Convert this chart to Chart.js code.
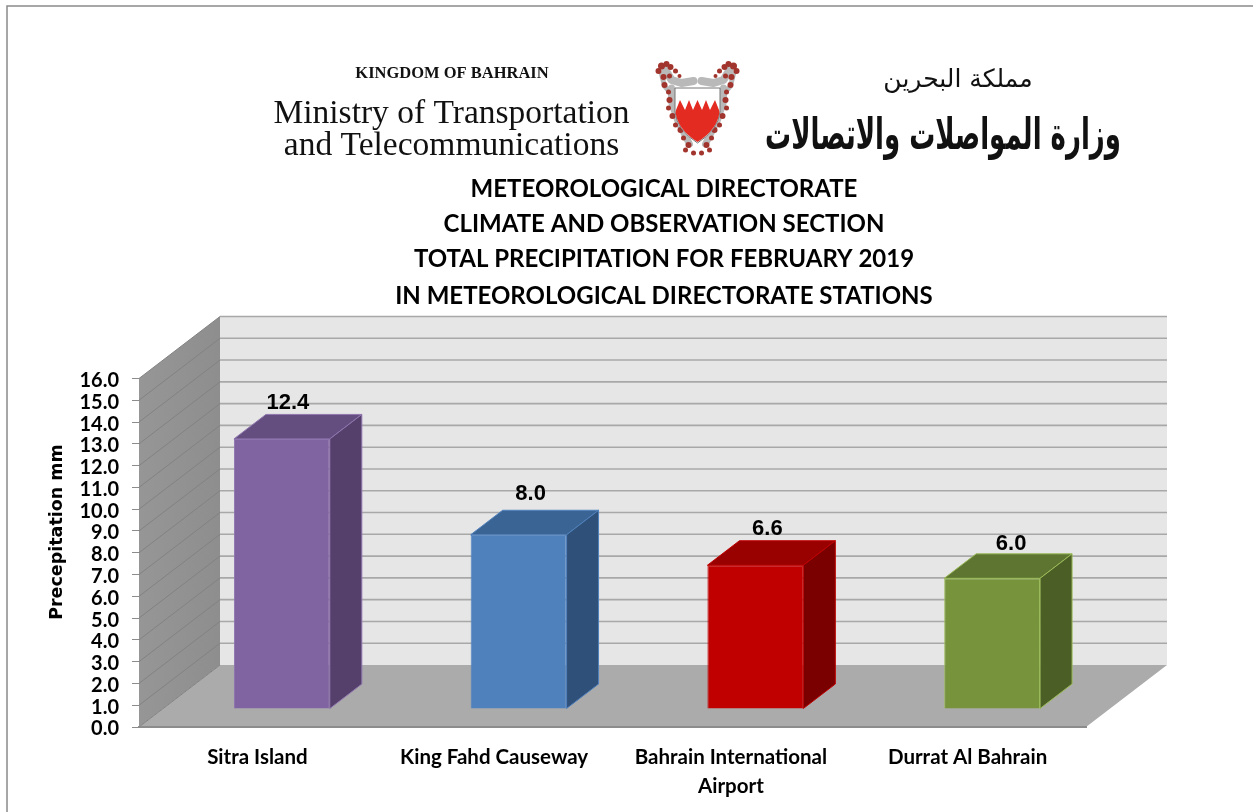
<!DOCTYPE html>
<html>
<head>
<meta charset="utf-8">
<title>Total precipitation February 2019</title>
<script src="https://cdn.jsdelivr.net/npm/chart.js@4/dist/chart.umd.js"></script>
<style>
  html, body { margin: 0; padding: 0; background: #fff; }
  #wrap { position: relative; width: 1253px; height: 812px; }
</style>
</head>
<body>
<div id="wrap"><canvas id="rainChart" width="1253" height="812"></canvas></div>
<script>
const stations = ['Sitra Island', 'King Fahd Causeway', ['Bahrain International', 'Airport'], 'Durrat Al Bahrain'];
const precipitation = [12.4, 8.0, 6.6, 6.0];
const frontColors = ['#8064a2', '#4f81bd', '#c00000', '#77933c'];
const topColors = ['#644e80', '#3a6494', '#990000', '#5d7530'];
const sideColors = ['#553f6b', '#2f5079', '#7a0000', '#4b5e25'];
const edgeColors = ['#8f75ae', '#4f81bd', '#c00000', '#9bbb59'];
const titleLines = [
  'METEOROLOGICAL DIRECTORATE',
  'CLIMATE AND OBSERVATION SECTION',
  'TOTAL PRECIPITATION FOR FEBRUARY 2019',
  'IN METEOROLOGICAL DIRECTORATE STATIONS'
];
const yAxisTitle = 'Precepitation mm';

// depth of the fake 3d box
const wallDx = 81, wallDy = -62;
const barDx = 24.5, barDy = -18;
const sideDx = 32, sideDy = -24.5;
const labelNudge = [[-6, 1], [0, -4], [0, 0], [7, 2]];

function poly(ctx, pts, fill, stroke) {
  ctx.beginPath();
  pts.forEach((p, i) => i ? ctx.lineTo(p[0], p[1]) : ctx.moveTo(p[0], p[1]));
  ctx.closePath();
  ctx.fillStyle = fill;
  ctx.fill();
  if (stroke) {
    ctx.strokeStyle = stroke;
    ctx.lineWidth = 1;
    ctx.stroke();
  }
}

function drawEmblem(ctx) {
  // mantling round the shield, mirrored about the middle
  const midX = 697.5, topY = 88;
  const grey = [
    [8, [[-32, -18], [-26, -8], [-16, -5], [-4, -7]]],
    [7, [[-26, 0], [-26, 14], [-20, 32], [-8, 56]]],
    [5, [[-36, -14], [-33, -2], [-28, 4]]]
  ];
  const dabs = [
    [-39, -17, 3], [-36, -22, 3.5], [-31, -24, 3], [-27, -21, 3], [-22, -17, 2.5], [-34, -11, 3],
    [-28, -12, 2.5], [-18, -12, 2], [-33, -3, 3], [-29, 4, 2.5], [-28, 12, 3], [-29, 20, 2.5],
    [-25, 28, 3], [-22, 37, 2.5], [-17, 42, 3], [-14, 50, 2.5], [-9, 57, 3], [-12, 62, 2.5], [-4, 65, 2.5]
  ];
  ctx.lineCap = 'round';
  ctx.lineJoin = 'round';
  [-1, 1].forEach(dir => {
    ctx.strokeStyle = '#b9b9b9';
    grey.forEach(s => {
      ctx.lineWidth = s[0];
      ctx.beginPath();
      s[1].forEach((p, i) => {
        i ? ctx.lineTo(midX + dir * p[0], topY + p[1]) : ctx.moveTo(midX + dir * p[0], topY + p[1]);
      });
      ctx.stroke();
    });
    ctx.fillStyle = '#a1342c';
    dabs.forEach(d => {
      ctx.beginPath();
      ctx.arc(midX + dir * d[0], topY + d[1], d[2], 0, Math.PI * 2);
      ctx.fill();
    });
  });
  ctx.lineCap = 'butt';
  ctx.lineJoin = 'miter';
  // shield
  ctx.beginPath();
  ctx.moveTo(675, 88);
  ctx.lineTo(720, 88);
  ctx.lineTo(720, 112);
  ctx.quadraticCurveTo(718, 130, 697.5, 143);
  ctx.quadraticCurveTo(677, 130, 675, 112);
  ctx.closePath();
  ctx.fillStyle = '#fff';
  ctx.fill();
  ctx.strokeStyle = '#777';
  ctx.lineWidth = 1;
  ctx.stroke();
  ctx.beginPath();
  ctx.moveTo(676, 110);
  [[680, 100], [685, 110], [689, 100], [693, 110], [697.5, 100], [702, 110], [706, 100], [710, 110], [715, 100], [719, 110]]
    .forEach(p => ctx.lineTo(p[0], p[1]));
  ctx.lineTo(719.5, 112);
  ctx.quadraticCurveTo(717.5, 129.5, 697.5, 142);
  ctx.quadraticCurveTo(677.5, 129.5, 675.5, 112);
  ctx.closePath();
  ctx.fillStyle = '#e32b22';
  ctx.fill();
}

const boxPlugin = {
  id: 'box3d',
  beforeDraw(chart) {
    const ctx = chart.ctx;
    const y = chart.scales.y;
    const a = chart.chartArea;
    ctx.save();

    // picture frame
    ctx.strokeStyle = '#8a8a8a';
    ctx.lineWidth = 1.5;
    ctx.beginPath();
    ctx.moveTo(7, 812);
    ctx.lineTo(7, 6);
    ctx.lineTo(1253, 6);
    ctx.stroke();

    // walls and floor
    const y0 = y.getPixelForValue(0), yTop = y.getPixelForValue(16);
    const backL = a.left + wallDx, backR = a.right + wallDx;
    poly(ctx, [[backL, yTop + wallDy], [backR, yTop + wallDy], [backR, y0 + wallDy], [backL, y0 + wallDy]], '#e6e6e6');
    const side = ctx.createLinearGradient(a.left, 0, backL, 0);
    side.addColorStop(0, '#969696');
    side.addColorStop(1, '#8e8e8e');
    poly(ctx, [[a.left, yTop], [backL, yTop + wallDy], [backL, y0 + wallDy], [a.left, y0]], side);
    poly(ctx, [[a.left, y0], [backL, y0 + wallDy], [backR, y0 + wallDy], [a.right, y0]], '#ababab');

    y.ticks.forEach(t => {
      const py = y.getPixelForValue(t.value);
      if (t.value > 0) {
        ctx.strokeStyle = '#a8a8a8';
        ctx.lineWidth = 1.6;
        ctx.beginPath();
        ctx.moveTo(backL, py + wallDy);
        ctx.lineTo(backR, py + wallDy);
        ctx.stroke();
      }
      ctx.strokeStyle = '#828282';
      ctx.lineWidth = 1;
      ctx.beginPath();
      ctx.moveTo(a.left, py);
      ctx.lineTo(backL, py + wallDy);
      ctx.stroke();
    });

    // letterhead and title
    ctx.textBaseline = 'alphabetic';
    ctx.textAlign = 'center';
    ctx.fillStyle = '#111';
    ctx.font = 'bold 16.5px "Liberation Serif"';
    ctx.fillText('KINGDOM OF BAHRAIN', 452, 78);
    ctx.font = '33.5px "Liberation Serif"';
    ctx.fillText('Ministry of Transportation', 451.5, 123);
    ctx.fillText('and Telecommunications', 451.5, 155);
    ctx.font = '25px "DejaVu Sans"';
    ctx.fillText('مملكة البحرين', 958, 87);
    ctx.font = 'bold 44px "DejaVu Sans"';
    ctx.fillText('وزارة المواصلات والاتصالات', 943, 149, 356);
    drawEmblem(ctx);

    ctx.fillStyle = '#000';
    ctx.font = 'bold 24px Lato';
    [197, 232, 267, 304].forEach((by, i) => ctx.fillText(titleLines[i], 664, by));

    // axis title sits above the middle of the axis in the original
    ctx.save();
    ctx.translate(57, 532);
    ctx.rotate(-Math.PI / 2);
    ctx.textBaseline = 'middle';
    ctx.font = 'bold 17.5px "DejaVu Sans"';
    ctx.fillText(yAxisTitle, 0, 0);
    ctx.restore();
    ctx.restore();
  },
  beforeDatasetsDraw(chart) {
    chart.ctx.save();
    chart.ctx.translate(barDx, barDy);
  },
  afterDatasetsDraw(chart) {
    const ctx = chart.ctx;
    const bars = chart.getDatasetMeta(0).data;
    bars.forEach((bar, i) => {
      const l = bar.x - bar.width / 2, r = bar.x + bar.width / 2;
      poly(ctx, [[l, bar.y], [l + sideDx, bar.y + sideDy], [r + sideDx, bar.y + sideDy], [r, bar.y]], topColors[i], edgeColors[i]);
      poly(ctx, [[r, bar.y], [r + sideDx, bar.y + sideDy], [r + sideDx, bar.base + sideDy], [r, bar.base]], sideColors[i], edgeColors[i]);
    });
    ctx.restore();

    ctx.save();
    ctx.fillStyle = '#000';
    ctx.font = 'bold 22px "Liberation Sans"';
    ctx.textAlign = 'center';
    ctx.textBaseline = 'alphabetic';
    bars.forEach((bar, i) => {
      const lx = bar.x + barDx + sideDx / 2 - 4 + labelNudge[i][0];
      const ly = bar.y + barDy + sideDy - 6 + labelNudge[i][1];
      ctx.fillText(precipitation[i].toFixed(1), lx, ly);
    });
    ctx.restore();
  }
};

new Chart(document.getElementById('rainChart'), {
  type: 'bar',
  data: {
    labels: stations,
    datasets: [{
      label: yAxisTitle,
      data: precipitation,
      backgroundColor: frontColors,
      borderColor: edgeColors,
      borderWidth: 1,
      barPercentage: 0.405,
      categoryPercentage: 1,
      clip: false
    }]
  },
  options: {
    responsive: false,
    animation: false,
    events: [],
    layout: { padding: { top: 378.5, right: 167, bottom: 0, left: 0 } },
    plugins: { legend: { display: false }, tooltip: { enabled: false } },
    scales: {
      x: {
        afterFit: s => { s.height = 85; },
        grid: { display: false },
        border: { display: true, color: '#8c8c8c', width: 2 },
        ticks: {
          padding: 8,
          maxRotation: 0,
          autoSkip: false,
          color: '#000',
          font: { family: 'Lato', size: 20.5, weight: 'bold', lineHeight: 1.41 }
        }
      },
      y: {
        min: 0,
        max: 16,
        afterFit: s => { s.width = 139; },
        grid: { drawOnChartArea: false, drawTicks: true, tickLength: 7, color: '#8c8c8c' },
        border: { display: false },
        ticks: {
          stepSize: 1,
          padding: 13,
          labelOffset: 2,
          autoSkip: false,
          color: '#000',
          callback: v => v.toFixed(1),
          font: { family: 'Lato', size: 20, weight: 'bold', lineHeight: 1 }
        }
      }
    }
  },
  plugins: [boxPlugin]
});
</script>
</body>
</html>
